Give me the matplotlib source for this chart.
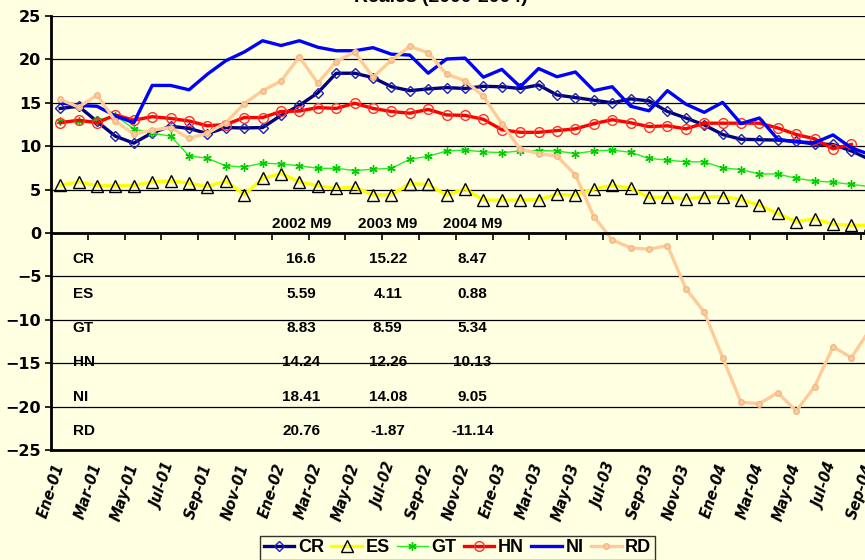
import numpy as np
import matplotlib.pyplot as plt

# meses del periodo Ene-01 .. Sep-04
meses = ['Ene', 'Feb', 'Mar', 'Abr', 'May', 'Jun', 'Jul', 'Ago', 'Sep', 'Oct', 'Nov', 'Dic']
periodos = [f'{m}-{a:02d}' for a in range(1, 5) for m in meses][:45]

cr = [14.35, 14.6, 12.85, 11.15, 10.35, 11.55, 12.3, 12.05, 11.45, 12.15, 12.1, 12.15,
      13.55, 14.7, 16.15, 18.4, 18.41, 17.9, 16.85, 16.4, 16.6, 16.75, 16.65, 16.9,
      16.85, 16.65, 17.05, 15.9, 15.6, 15.3, 15.0, 15.45, 15.22, 14.0, 13.25, 12.45,
      11.35, 10.8, 10.75, 10.7, 10.55, 10.25, 10.2, 9.45, 8.47]
es = [5.5, 5.9, 5.45, 5.45, 5.45, 5.9, 6.0, 5.75, 5.35, 6.0, 4.4, 6.3,
      6.85, 5.9, 5.45, 5.15, 5.25, 4.4, 4.4, 5.7, 5.59, 4.35, 5.1, 3.8,
      3.8, 3.8, 3.85, 4.45, 4.35, 5.05, 5.5, 5.15, 4.11, 4.15, 3.95, 4.15,
      4.2, 3.85, 3.2, 2.25, 1.3, 1.65, 1.0, 0.9, 0.88]
gt = [12.9, 12.9, 13.0, 13.5, 12.0, 11.5, 11.15, 8.9, 8.6, 7.75, 7.6, 8.05,
      7.95, 7.75, 7.45, 7.45, 7.2, 7.35, 7.45, 8.5, 8.83, 9.45, 9.55, 9.35,
      9.25, 9.45, 9.5, 9.45, 9.15, 9.45, 9.55, 9.3, 8.59, 8.4, 8.2, 8.2,
      7.5, 7.3, 6.8, 6.8, 6.3, 6.0, 5.85, 5.6, 5.34]
hn = [12.7, 13.0, 12.7, 13.6, 13.0, 13.4, 13.2, 12.9, 12.35, 12.5, 13.3, 13.3,
      14.0, 14.05, 14.45, 14.35, 14.95, 14.35, 14.0, 13.8, 14.24, 13.6, 13.55, 13.1,
      11.9, 11.6, 11.6, 11.8, 12.0, 12.6, 13.05, 12.7, 12.26, 12.35, 12.0, 12.65,
      12.65, 12.65, 12.65, 12.1, 11.35, 10.85, 9.7, 10.2]
ni = [15.0, 14.7, 14.6, 13.5, 12.7, 17.0, 17.0, 16.5, 18.3, 19.85, 20.85, 22.15,
      21.6, 22.15, 21.4, 21.0, 21.0, 21.35, 20.6, 20.5, 18.41, 20.05, 20.15, 17.95,
      18.85, 16.85, 18.95, 18.0, 18.55, 16.4, 16.85, 14.6, 14.08, 16.4, 14.85, 13.9,
      15.05, 12.6, 13.25, 10.8, 10.5, 10.4, 11.3, 9.8, 9.05]
rd = [15.4, 14.5, 15.9, 12.9, 11.4, 11.85, 12.15, 10.9, 11.5, 12.7, 14.9, 16.4,
      17.5, 20.3, 17.25, 19.75, 20.85, 17.95, 19.9, 21.5, 20.76, 18.3, 17.55, 15.75,
      12.6, 9.65, 9.15, 8.85, 6.7, 1.9, -0.8, -1.7, -1.87, -1.45, -6.4, -9.1,
      -14.35, -19.5, -19.65, -18.4, -20.5, -17.7, -13.1, -14.35, -11.14]

paises = ['CR', 'ES', 'GT', 'HN', 'NI', 'RD']
columnas = ['2002 M9', '2003 M9', '2004 M9']
tabla_2002 = ['16.6', '5.59', '8.83', '14.24', '18.41', '20.76']
tabla_2003 = ['15.22', '4.11', '8.59', '12.26', '14.08', '-1.87']
tabla_2004 = ['8.47', '0.88', '5.34', '10.13', '9.05', '-11.14']

fondo = '#FFFFE1'
plt.rcParams['font.family'] = ['Liberation Sans', 'DejaVu Sans']

fig = plt.figure(figsize=(8.65, 5.6), dpi=100, facecolor=fondo)
ax = fig.add_axes([51 / 865, 110 / 560, 828 / 865, 434 / 560])
ax.set_facecolor(fondo)

x = np.arange(len(periodos))
ax.plot(x, cr, color='#000080', lw=2.4, marker='D', ms=5, mfc='none', mec='#2020B0', mew=1, label='CR')
ax.plot(x, es, color='#FFFF00', lw=2.4, marker='^', ms=8, mfc='none', mec='black', mew=1, label='ES')
ax.plot(x[:len(gt)], gt, color='#22EE22', lw=1, marker=(6, 2, 0), ms=6, mec='#00CC00', mew=1, label='GT')
ax.plot(x[:len(hn)], hn, color='#FF0000', lw=2.4, marker='o', ms=7, mfc='none', mec='#FF3030', mew=1, label='HN')
ax.plot(x, ni, color='#0000FF', lw=2.4, label='NI')
ax.plot(x, rd, color='#FFCC99', lw=2.4, marker='o', ms=4, mfc='#FFCC99', mec='#F0B888', label='RD')

ax.set_xlim(-0.5, 44.5)
ax.set_ylim(-25, 25)
ax.set_yticks(range(-25, 30, 5))
ax.yaxis.grid(True, color='black', lw=0.9)
ax.set_axisbelow(True)
for lab in ax.get_yticklabels():
    lab.set_fontweight('bold')
    lab.set_fontfamily('DejaVu Sans')
ax.tick_params(axis='y', labelsize=11.5, length=4, width=1.2, direction='out', pad=3)

ax.spines['top'].set_visible(False)
ax.spines['right'].set_visible(False)
ax.spines['left'].set_linewidth(2)
ax.spines['bottom'].set_position(('data', 0))
ax.spines['bottom'].set_linewidth(2)
ax.set_xticks(np.arange(1.5, 44.5, 2))
ax.tick_params(axis='x', labelbottom=False, length=5, width=1.2, direction='out')

# etiquetas de meses al pie del area de trazado
sec = ax.secondary_xaxis(0.0)
sec.set_xticks(x[::2], labels=periodos[::2])
sec.spines['bottom'].set_linewidth(2)
sec.tick_params(length=0, pad=10)
for lab in sec.get_xticklabels():
    lab.set_rotation(72)
    lab.set_ha('right')
    lab.set_va('center')
    lab.set_rotation_mode('anchor')
    lab.set_fontfamily('DejaVu Sans')
    lab.set_fontweight('bold')
    lab.set_fontstyle('italic')
    lab.set_fontsize(10.5)

# tabla de valores dentro del grafico
col_x = [13.1, 17.8, 22.4]
fila_y = [-3.0, -7.0, -11.0, -14.9, -18.9, -22.85]
for cx, titulo in zip(col_x, columnas):
    ax.text(cx, 1.0, titulo, ha='center', va='center', fontsize=11, fontweight='bold')
for fy, pais, v1, v2, v3 in zip(fila_y, paises, tabla_2002, tabla_2003, tabla_2004):
    ax.text(0.67, fy, pais, ha='left', va='center', fontsize=11, fontweight='bold')
    for cx, v in zip(col_x, [v1, v2, v3]):
        ax.text(cx, fy, v, ha='center', va='center', fontsize=11, fontweight='bold')

fig.text(441 / 865, 1 - 1.5 / 560, 'Reales (2000-2004)', ha='center', va='baseline',
         fontsize=14, fontweight='bold')

leg = fig.legend(loc='center', bbox_to_anchor=(457.5 / 865, 1 - 548 / 560), ncol=6,
                 frameon=True, fancybox=False, edgecolor='black', facecolor=fondo,
                 handlelength=1.7, handletextpad=0.2, columnspacing=0.4,
                 borderpad=0.2, borderaxespad=0.0, prop={'weight': 'bold', 'size': 13})
leg.get_frame().set_linewidth(1)

fig.savefig('out.png', dpi=100, facecolor=fondo)
